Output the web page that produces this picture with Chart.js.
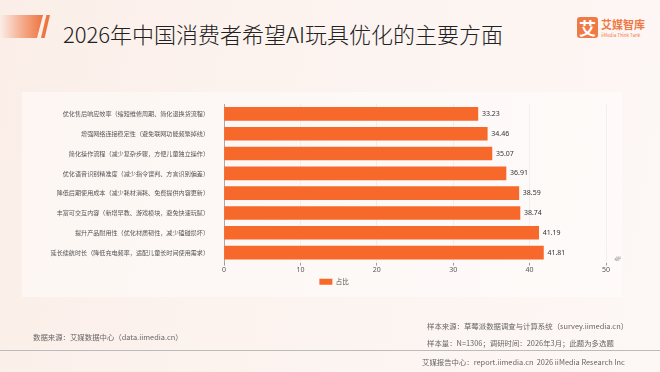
<!DOCTYPE html>
<html>
<head>
<meta charset="utf-8">
<script src="https://cdn.jsdelivr.net/npm/chart.js@4/dist/chart.umd.min.js"></script>
<style>
  html,body{margin:0;padding:0;}
  body{width:660px;height:372px;position:relative;overflow:hidden;
    background:linear-gradient(100deg,#fbeee8 0%,#fcf3ef 40%,#fdf7f5 100%);
    font-family:"Noto Sans CJK SC","Noto Sans",sans-serif;}
  .panel{position:absolute;left:22px;top:92px;width:600px;height:205px;background:rgba(255,255,255,0.45);}
  #wrap{position:absolute;left:0;top:0;width:660px;height:372px;}
  .deco{position:absolute;left:0;top:15px;width:43px;height:23px;
    background:linear-gradient(90deg,rgba(240,120,70,0) 0%,rgba(240,120,70,0.55) 50%,#ee7440 100%);
    clip-path:polygon(0 0,100% 0,86% 100%,0 100%);}
  .slash{position:absolute;left:41px;top:15px;width:9px;height:23px;background:#ee7440;
    clip-path:polygon(60% 0,100% 0,40% 100%,0 100%);}
  .title{position:absolute;left:63px;top:17px;font-size:22px;line-height:32px;color:#222;white-space:nowrap;font-weight:300;}
  .logo{position:absolute;left:577px;top:17px;width:21px;height:21px;background:#f07a45;border-radius:3px;
    color:#fff;font-size:17px;line-height:21px;text-align:center;font-weight:bold;}
  .logot{position:absolute;left:601px;top:17px;color:#f07a45;font-size:11px;font-weight:bold;line-height:14px;white-space:nowrap;}
  .logos{position:absolute;left:601px;top:32px;color:#f07a45;font-size:4.5px;line-height:6px;white-space:nowrap;}
  .foot{position:absolute;font-size:7.4px;color:#666;white-space:nowrap;line-height:9px;}
  .hr{position:absolute;left:0;top:350px;width:660px;height:1px;background:#bbb;}
  .pct{position:absolute;left:615px;top:254px;font-size:6px;color:#666;transform:rotate(-60deg);}
</style>
</head>
<body>
<div class="panel"></div>
<div class="deco"></div><div class="slash"></div>
<div class="title">2026年中国消费者希望AI玩具优化的主要方面</div>
<div class="logo">艾</div>
<div class="logot">艾媒智库</div>
<div class="logos">iiMedia Think Tank</div>
<div id="wrap"><canvas id="c" width="660" height="372"></canvas></div>
<div class="pct">%</div>
<div class="foot" style="left:33px;top:332px;">数据来源：艾媒数据中心（data.iimedia.cn）</div>
<div class="foot" style="left:427px;top:321px;">样本来源：草莓派数据调查与计算系统（survey.iimedia.cn）</div>
<div class="foot" style="left:427px;top:338px;">样本量：N=1306；调研时间：2026年3月；此题为多选题</div>
<div class="hr"></div>
<div class="foot" style="left:422px;top:357px;">艾媒报告中心：report.iimedia.cn&nbsp;&nbsp;2026 iiMedia Research Inc</div>
<script>
const categories = [
  "优化售后响应效率（缩短维修周期、简化退换货流程）",
  "增强网络连接稳定性（避免联网功能频繁掉线）",
  "简化操作流程（减少复杂步骤，方便儿童独立操作）",
  "优化语音识别精准度（减少指令误判、方言识别偏差）",
  "降低后期使用成本（减少耗材消耗、免费提供内容更新）",
  "丰富可交互内容（新增早教、游戏模块，避免快速玩腻）",
  "提升产品耐用性（优化材质韧性，减少磕碰损坏）",
  "延长续航时长（降低充电频率，适配儿童长时间使用需求）"
];
const seriesName = "占比";
const values = [33.23, 34.46, 35.07, 36.91, 38.59, 38.74, 41.19, 41.81];
const xTicks = [0, 10, 20, 30, 40, 50];

const valueLabels = {
  id: 'valueLabels',
  afterDatasetsDraw(chart) {
    const ctx = chart.ctx;
    const meta = chart.getDatasetMeta(0);
    ctx.save();
    ctx.font = '7px "Noto Sans", sans-serif';
    ctx.fillStyle = '#333';
    ctx.textBaseline = 'middle';
    ctx.textAlign = 'left';
    meta.data.forEach((bar, i) => {
      ctx.fillText(values[i].toFixed(2), bar.x + 4, bar.y);
    });
    ctx.restore();
  }
};

// centre the legend on the page width rather than on the plot box
const legendShift = {
  id: 'legendShift',
  afterLayout(chart) {
    const lg = chart.legend;
    if (!lg) return;
    const target = 334;
    const cur = (lg.left + lg.right) / 2;
    const d = target - cur;
    lg.left += d; lg.right += d;
  }
};

new Chart(document.getElementById('c'), {
  type: 'bar',
  data: {
    labels: categories,
    datasets: [{
      label: seriesName,
      data: values,
      backgroundColor: '#f7692b',
      borderWidth: 0,
      barThickness: 13
    }]
  },
  options: {
    indexAxis: 'y',
    responsive: false,
    animation: false,
    devicePixelRatio: 1,
    layout: { padding: { top: 104, left: 0, right: 54, bottom: 77 } },
    scales: {
      x: {
        min: 0, max: 50,
        afterBuildTicks(s) { s.ticks = xTicks.map(v => ({ value: v })); },
        ticks: { font: { size: 7, family: '"Noto Sans", sans-serif' }, color: '#555', padding: 0 },
        grid: { color: '#efefef', drawTicks: true, tickLength: 3, tickColor: '#999' },
        border: { display: false },
        afterFit(s) { s.height = 12; }
      },
      y: {
        ticks: { font: { size: 6.1, family: '"Noto Sans CJK SC", sans-serif' }, color: '#555', padding: 7 },
        grid: { display: false },
        border: { display: true, color: '#aaa', width: 1 },
        afterFit(s) { s.width = 224; }
      }
    },
    plugins: {
      legend: {
        position: 'bottom',
        labels: { boxWidth: 13, boxHeight: 6, font: { size: 6.5, family: '"Noto Sans CJK SC", sans-serif' }, color: '#555', padding: 4 }
      },
      tooltip: { enabled: false }
    }
  },
  plugins: [valueLabels, legendShift]
});
</script>
</body>
</html>
